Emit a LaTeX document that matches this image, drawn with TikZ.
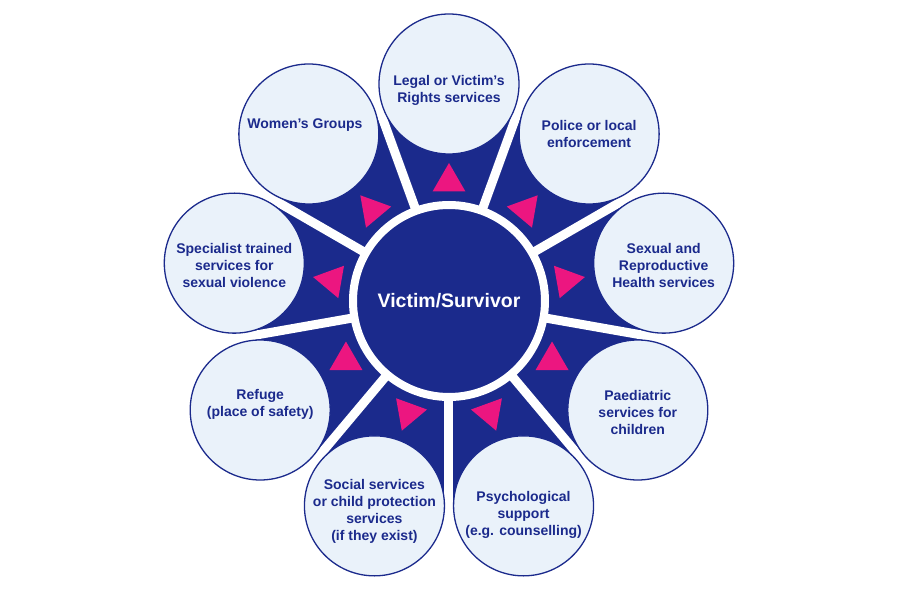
\documentclass[tikz,border=0pt]{standalone}
\usepackage{fontspec}
\setmainfont{Liberation Sans}
\definecolor{navy}{RGB}{27,42,140}
\definecolor{pale}{RGB}{234,242,250}
\definecolor{rose}{RGB}{236,22,128}
\tikzset{
  service/.style={circle, draw=navy, line width=1.3pt, fill=pale, minimum size=140pt, inner sep=0pt},
  caption/.style={align=center, text=navy, font=\bfseries\fontsize{14}{17}\selectfont},
  hubdisc/.style={circle, fill=navy, draw=white, line width=8pt, minimum size=192pt, text=white, font=\bfseries\fontsize{19.5}{23}\selectfont},
}
\begin{document}
\begin{tikzpicture}[x=1pt, y=1pt]
\useasboundingbox (-449, -299) rectangle (451, 301);
\path (0, 0) coordinate (hub);
\fill [navy] (hub) circle (205);
\foreach \a in {30, 70, ..., 350}
  \draw [white, line width=9pt] (hub) -- (\a:235);
\foreach \a in {10, 50, ..., 330}
  \fill [rose, shift={(\a:119)}] (\a:19) -- (\a+120:19) -- (\a+240:19) -- cycle;

%%%%%%%%%%%%%%%%%%%%%%%%%%%%%%%%%%%%%%%%

\node [service] (legal)      at (90:217)   {};
\node [service] (police)     at (50:218)   {};
\node [service] (sexual)     at (10:218)   {};
\node [service] (paediatric) at (-30:218)  {};
\node [service] (psych)      at (-70:218)  {};
\node [service] (social)     at (-110:218) {};
\node [service] (refuge)     at (-150:218) {};
\node [service] (specialist) at (170:218)  {};
\node [service] (women)      at (130:218)  {};

\node [caption] (legal text)      at ([yshift=-6pt]legal)      {Legal or Victim’s\\Rights services};
\node [caption] (police text)     at (police)                  {Police or local\\enforcement};
\node [caption] (sexual text)     at ([yshift=-2pt]sexual)     {Sexual and\\Reproductive\\Health services};
\node [caption] (paediatric text) at ([yshift=-2pt]paediatric) {Paediatric\\services for\\children};
\node [caption] (psych text)      at ([yshift=-9pt]psych)      {Psychological\\support\\(e.g. counselling)};
\node [caption] (social text)     at ([yshift=-6pt]social)     {Social services\\or child protection\\services\\(if they exist)};
\node [caption] (refuge text)     at ([yshift=6pt]refuge)      {Refuge\\(place of safety)};
\node [caption] (specialist text) at ([yshift=-2pt]specialist) {Specialist trained\\services for\\sexual violence};
\node [caption] (women text)      at ([xshift=-4pt, yshift=9pt]women) {Women’s Groups};

\node [hubdisc] (victim) at (hub) {Victim/Survivor};

\end{tikzpicture}
\end{document}
